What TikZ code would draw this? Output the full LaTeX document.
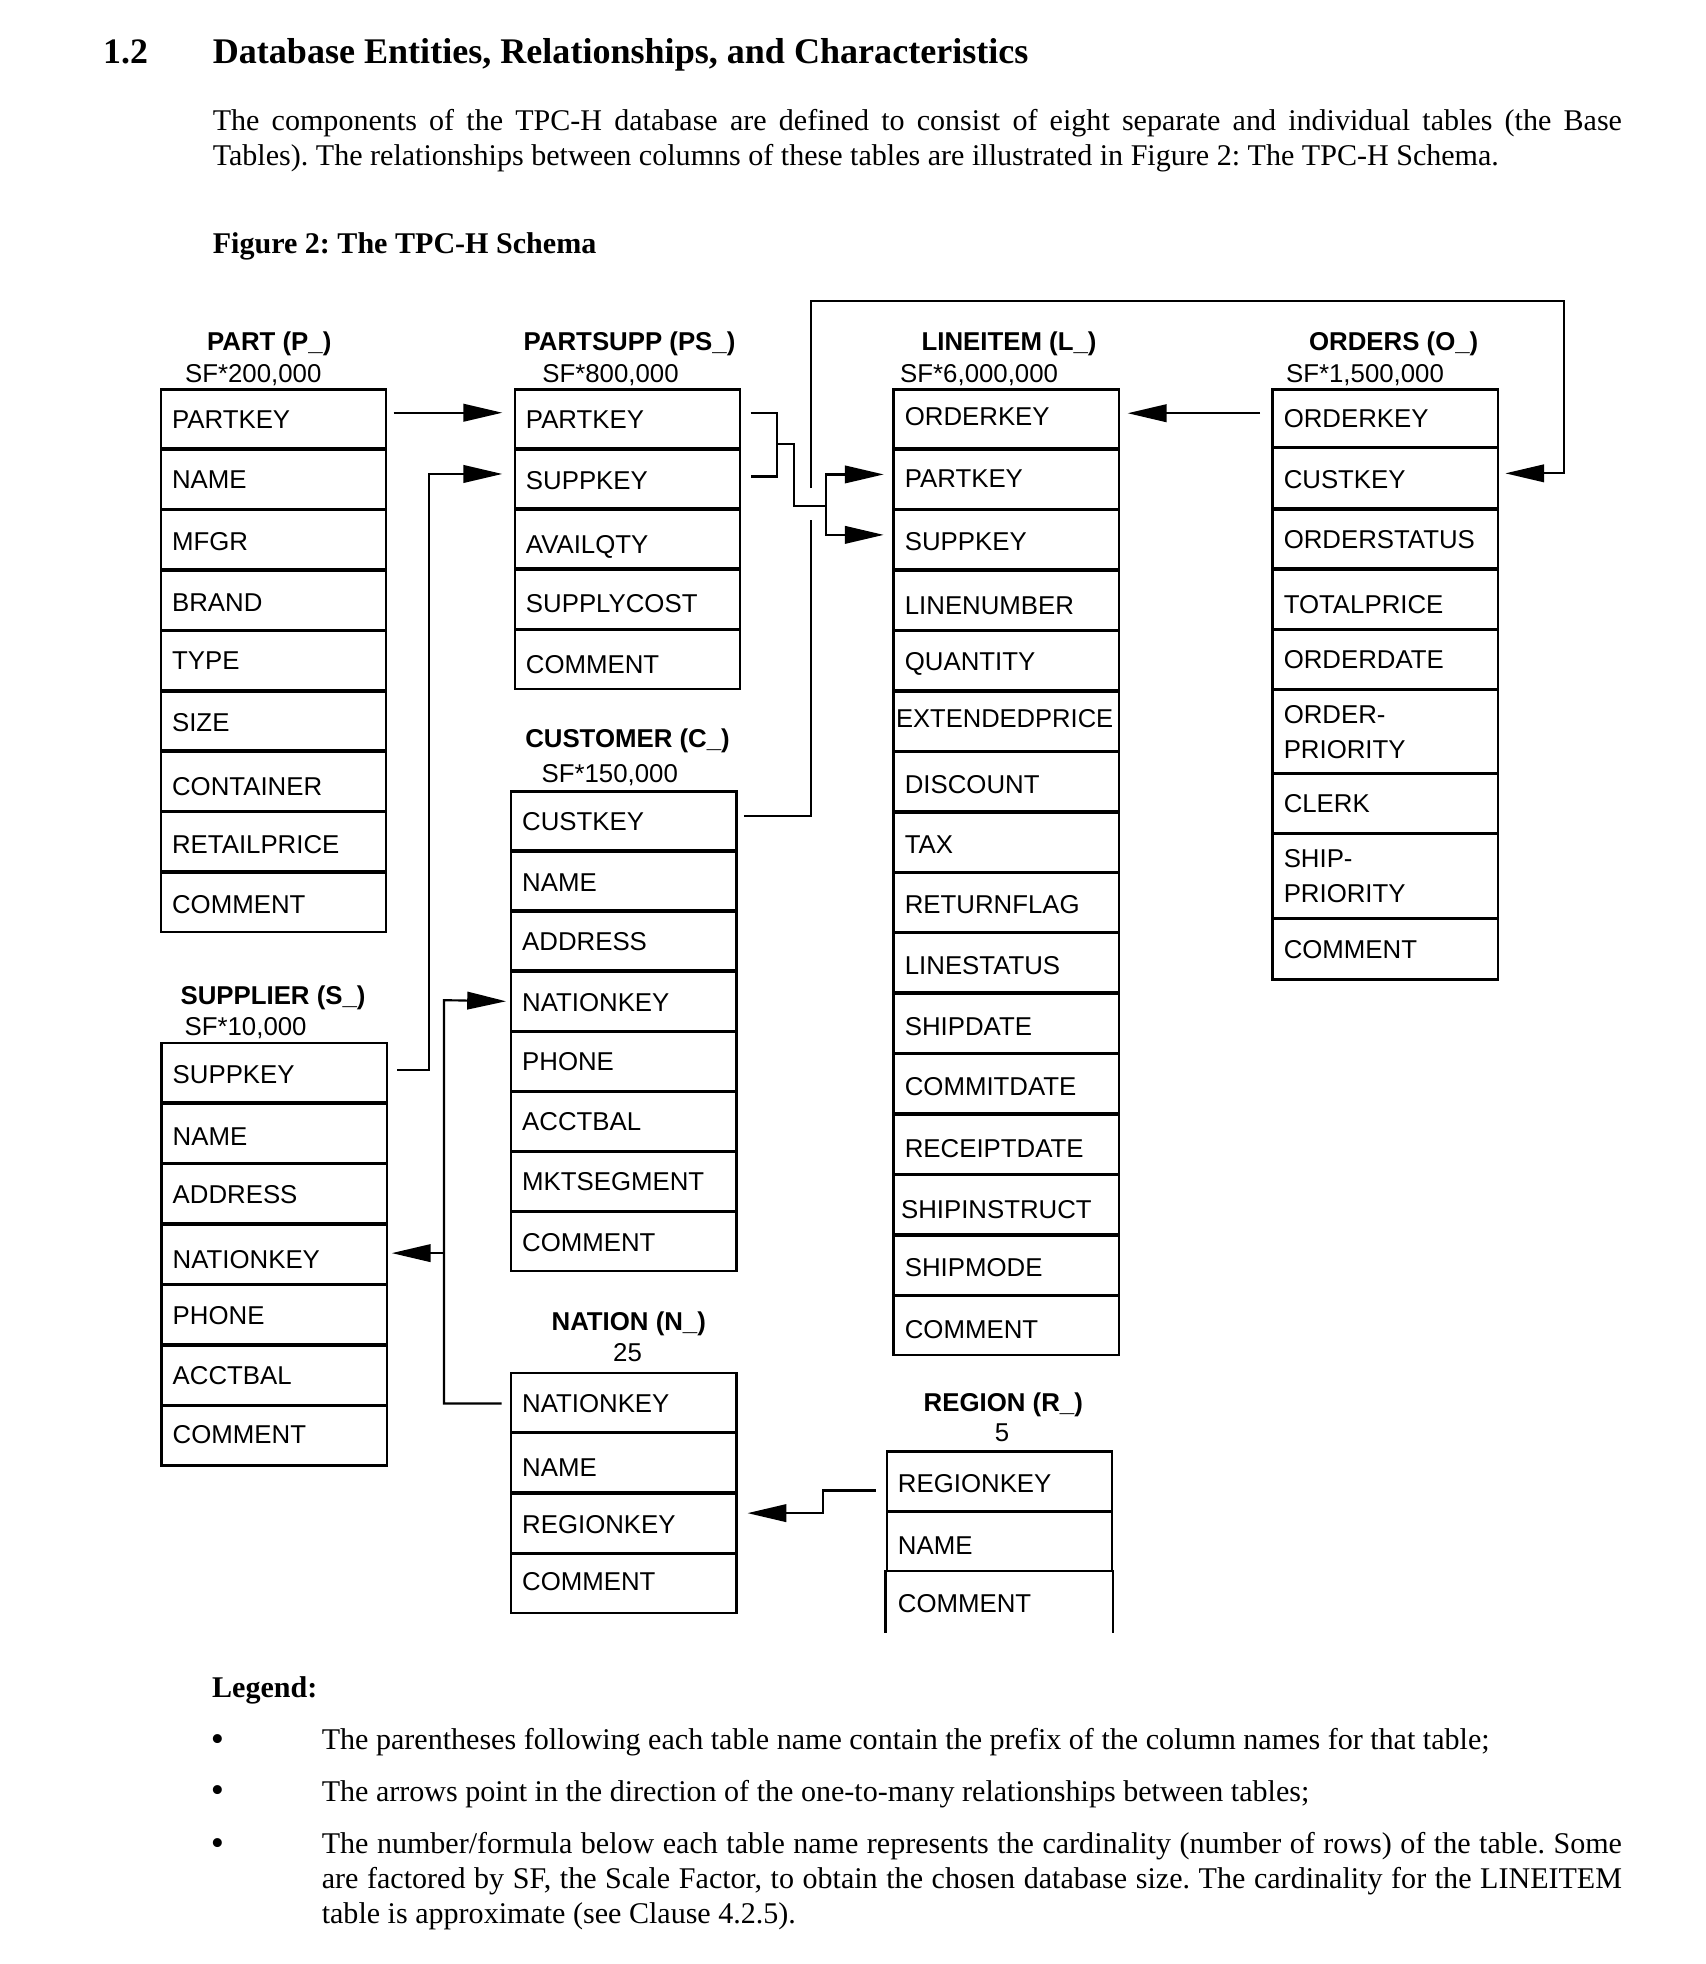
\documentclass[tikz,border=0pt]{standalone}
\usepackage{fontspec}
\setmainfont{Liberation Serif}
\newfontfamily\arial{Liberation Sans}
\usepackage{graphicx}
\usetikzlibrary{arrows.meta,calc}
\frenchspacing

\tikzset{
 row/.style={draw, line width=0.9pt, rectangle, anchor=north west, inner xsep=4.5pt, inner ysep=0pt,
   text width=81pt, align=left, text height=7.4pt, text depth=0pt,
   font=\arial\fontsize{10.3}{14}\selectfont},
 rh/.style={minimum height={(#1-1)*0.5pt}},
 two/.style={text depth=14pt},
 ttl/.style={anchor=base, inner sep=0pt, font=\arial\bfseries\fontsize{10.3}{12}\selectfont},
 card/.style={anchor=base west, inner sep=0pt, font=\arial\fontsize{10.3}{12}\selectfont},
 cardc/.style={anchor=base, inner sep=0pt, font=\arial\fontsize{10.3}{12}\selectfont},
 conn/.style={line width=0.85pt},
 arr/.style={conn, -{Triangle[length=15.5pt,width=7pt]}},
 body/.style={anchor=base west, inner sep=0pt, font=\fontsize{12}{14}\selectfont},
 bodybf/.style={anchor=base west, inner sep=0pt, font=\bfseries\fontsize{12}{14}\selectfont},
 bul/.style={anchor=base west, inner sep=0pt, font=\fontsize{15}{14}\selectfont},
}
\newcommand{\rtxt}[2]{\raisebox{-#2pt}{#1}}

\begin{document}
\begin{tikzpicture}[x=0.5pt,y=-0.5pt]
\fill[white] (0,0) rectangle (1362,1568);
\useasboundingbox (0,0) rectangle (1362,1568);

% ---------- heading and paragraph ----------
\node[body, font=\bfseries\fontsize{14.3}{16}\selectfont] (secnum) at (82,50.6) {1.2};
\node[body, font=\bfseries\fontsize{14.4}{16}\selectfont] (sectitle) at (169.5,50.6) {Database Entities, Relationships, and Characteristics};
\node[body, text width=562.5pt, align=justify] (para) at (169.5,103.8) {The components of the TPC-H database are defined to consist of eight separate and individual tables (the Base\linebreak Tables). The relationships between columns of these tables are illustrated in Figure 2: The TPC-H Schema.};
\node[bodybf] (figcap) at (169.5,202) {Figure 2: The TPC-H Schema};

% ---------- PART ----------
\node[ttl] (partT) at (215,280) {PART (P\_)};
\node[card] (partC) at (147.4,305) {SF*200,000};
\foreach \t/\d [count=\i] in {PARTKEY/0,NAME/0,MFGR/0.5,BRAND/1,TYPE/0,SIZE/0.5,CONTAINER/2,RETAILPRICE/1,COMMENT/1}
  \node[row, rh=48.22] (p\i) at (127.5,{310+(\i-1)*48.22}) {\rtxt{\t}{\d}};

% ---------- PARTSUPP ----------
\node[ttl] (psT) at (502.6,280) {PARTSUPP (PS\_)};
\node[card] (psC) at (432.6,305) {SF*800,000};
\foreach \t/\d [count=\i] in {PARTKEY/0,SUPPKEY/0.5,AVAILQTY/2,SUPPLYCOST/1.5,COMMENT/2}
  \node[row, rh=48] (ps\i) at (410,{310+(\i-1)*48}) {\rtxt{\t}{\d}};

% ---------- LINEITEM ----------
\node[ttl] (lT) at (805.6,280) {LINEITEM (L\_)};
\node[card] (lC) at (718.3,305) {SF*6,000,000};
\foreach \t/\d [count=\i] in {ORDERKEY/-1,PARTKEY/-0.5,SUPPKEY/0.5,LINENUMBER/2,QUANTITY/0,{\hspace*{-3.5pt}\scalebox{0.99}[1]{EXTENDEDPRICE}}/-1,DISCOUNT/1,TAX/1,RETURNFLAG/0.5,LINESTATUS/1,SHIPDATE/1,COMMITDATE/1,RECEIPTDATE/1.5,{\hspace*{-1.5pt}SHIPINSTRUCT}/2,SHIPMODE/1,COMMENT/1.5}
  \node[row, rh=48.25] (l\i) at (712.5,{310+(\i-1)*48.25}) {\rtxt{\t}{\d}};

% ---------- ORDERS ----------
\node[ttl] (oT) at (1112.7,280) {ORDERS (O\_)};
\node[card] (oC) at (1026.4,305) {SF*1,500,000};
\node[row, rh=47] (o1) at (1015,310) {ORDERKEY};
\node[row, rh=49] (o2) at (1015,357) {\rtxt{CUSTKEY}{0.5}};
\node[row, rh=48] (o3) at (1015,406) {ORDERSTATUS};
\node[row, rh=48] (o4) at (1015,454) {\rtxt{TOTALPRICE}{2}};
\node[row, rh=48] (o5) at (1015,502) {ORDERDATE};
\node[row, two, rh=67] (o6) at (1015,550) {ORDER-\\PRIORITY};
\node[row, rh=48] (o7) at (1015,617) {CLERK};
\node[row, two, rh=68] (o8) at (1015,665) {SHIP-\\PRIORITY};
\node[row, rh=49] (o9) at (1015,733) {COMMENT};

% ---------- CUSTOMER ----------
\node[ttl] (cT) at (501,597) {CUSTOMER (C\_)};
\node[card] (cC) at (432,625) {SF*150,000};
\foreach \t/\d [count=\i] in {CUSTKEY/0,NAME/0.5,ADDRESS/0,NATIONKEY/0.5,PHONE/0,ACCTBAL/0,MKTSEGMENT/0,COMMENT/0}
  \node[row, rh=48] (c\i) at (407,{631+(\i-1)*48}) {\rtxt{\t}{\d}};

% ---------- SUPPLIER ----------
\node[ttl] (sT) at (218,802) {SUPPLIER (S\_)};
\node[card] (sC) at (147,827) {SF*10,000};
\foreach \t/\d [count=\i] in {SUPPKEY/0.5,NAME/1,ADDRESS/0,NATIONKEY/2,PHONE/0,ACCTBAL/0,COMMENT/-0.5}
  \node[row, rh=48.3] (s\i) at (128,{832+(\i-1)*48.3}) {\rtxt{\t}{\d}};

% ---------- NATION ----------
\node[ttl] (nT) at (502,1062) {NATION (N\_)};
\node[cardc] (nC) at (501,1087) {25};
\foreach \t/\d [count=\i] in {NATIONKEY/0.5,NAME/2,REGIONKEY/0.5,COMMENT/-1}
  \node[row, rh=48.25] (n\i) at (407,{1095+(\i-1)*48.25}) {\rtxt{\t}{\d}};

% ---------- REGION ----------
\node[ttl] (rT) at (801,1127) {REGION (R\_)};
\node[cardc] (rC) at (800,1151) {5};
\node[row, rh=48.2] (r1) at (707,1158) {\rtxt{REGIONKEY}{1}};
\node[row, rh=48.2] (r2) at (707,1206.2) {\rtxt{NAME}{1.5}};
\node[row, draw=none, rh=48.2] (r3) at (707,1254.4) {\rtxt{COMMENT}{0.5}};
\draw[line width=0.9pt] (r3.south west) |- (r3.north east) -- (r3.south east);

% ---------- connectors ----------
% PART.PARTKEY -> PARTSUPP.PARTKEY
\draw[arr] ($(p1.east)+(5,-5)$) -- ($(p1.east -| ps1.west)+(-9,-5)$);
% SUPPLIER.SUPPKEY -> PARTSUPP.SUPPKEY
\draw[arr] ($(s1.east)+(7.5,-2)$) -- ++(25.5,0) |- ($(ps2.west)+(-9,-4)$);
% PARTSUPP (PARTKEY,SUPPKEY) -> LINEITEM (PARTKEY,SUPPKEY)
\coordinate (bra) at (620,354.5);
\coordinate (fork) at (659.6,404);
\draw[conn] ($(ps1.east)+(7.5,-5)$) -| (bra) |- ($(ps2.east)+(7.5,-2)$);
\draw[conn] (bra) -- ++(14,0) |- (fork);
\draw[arr] (fork) |- ($(l2.west)+(-7,-4)$);
\draw[arr] (fork) |- ($(l3.west)+(-7,-4)$);
% ORDERS.ORDERKEY -> LINEITEM.ORDERKEY
\draw[arr] ($(o1.west)+(-9,-4)$) -- ($(o1.west -| l1.east)+(6,-4)$);
% CUSTOMER.CUSTKEY -> ORDERS.CUSTKEY (with a gap where it crosses)
\coordinate (hopA) at (647.6,415);
\coordinate (hopB) at (647.6,389.8);
\coordinate (loopR) at (1248.3,240.4);
\draw[conn] ($(c1.east)+(5,-4)$) -| (hopA);
\draw[arr] (hopB) |- (loopR) |- ($(o2.east)+(5,-4)$);
% NATION.NATIONKEY -> CUSTOMER.NATIONKEY and SUPPLIER.NATIONKEY
\coordinate (nv) at (354.5,798.5);
\draw[arr] ($(n1.west)+(-6.5,1)$) -| (nv) -- ($(c4.west)+(-3,0)$);
\draw[arr] ($(s4.east -| nv)+(0,-1)$) -- ($(s4.east)+(3,-1)$);
% REGION.REGIONKEY -> NATION.REGIONKEY
\draw[arr] ($(r1.west)+(-8,7.5)$) -| ($(n3.east)+(68,-8)$) -- ($(n3.east)+(8,-8)$);

% ---------- legend ----------
\node[bodybf] (legend) at (169,1355) {Legend:};
\node[bul] (b1) at (168,1398) {\textbullet};
\node[bul] (b2) at (168,1439) {\textbullet};
\node[bul] (b3) at (168,1481) {\textbullet};
\node[body] (t1) at (256.5,1397) {The parentheses following each table name contain the prefix of the column names for that table;};
\node[body] (t2) at (256.5,1438) {The arrows point in the direction of the one-to-many relationships between tables;};
\node[body, text width=519pt, align=justify] (t3) at (256.5,1480) {The number/formula below each table name represents the cardinality (number of rows) of the table. Some\linebreak are factored by SF, the Scale Factor, to obtain the chosen database size. The cardinality for the LINEITEM\linebreak table is approximate (see Clause 4.2.5).};
\end{tikzpicture}
\end{document}
